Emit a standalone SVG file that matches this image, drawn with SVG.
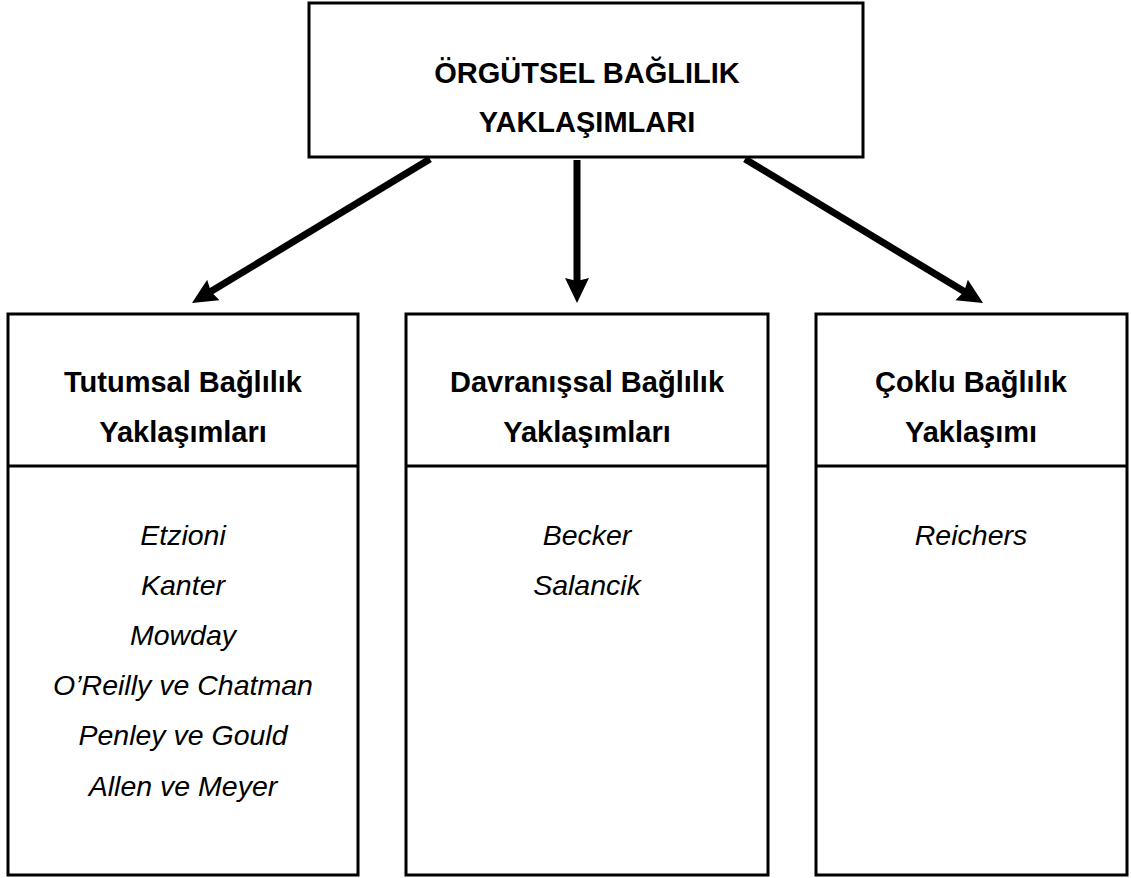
<svg xmlns="http://www.w3.org/2000/svg" width="1131" height="878" viewBox="0 0 1131 878">
<style>
.box{fill:#fff;stroke:#000;stroke-width:3}
.div{stroke:#000;stroke-width:3}
.hd{font-family:"Liberation Sans",Arial,sans-serif;font-weight:bold;font-size:29px;text-anchor:middle;fill:#000}
.it{font-family:"Liberation Sans",Arial,sans-serif;font-style:italic;font-size:28.5px;text-anchor:middle;fill:#000}
.ar{stroke:#000;stroke-width:7;fill:none;marker-end:url(#ah)}
</style>
<defs>
<marker id="ah" markerUnits="userSpaceOnUse" markerWidth="30" markerHeight="30" viewBox="0 0 30 30" refX="5" refY="12" orient="auto">
<path d="M0,0 L25,12 L0,24 L3,12 Z" fill="#000"/>
</marker>
</defs>
<rect width="1131" height="878" fill="#fff"/>
<g id="top">
<rect class="box" x="309" y="3" width="554" height="154"/>
<text class="hd" x="587" y="83">ÖRGÜTSEL BAĞLILIK</text>
<text class="hd" x="587" y="132">YAKLAŞIMLARI</text>
</g>
<g id="connectors">
<line class="ar" x1="430" y1="159" x2="209.1" y2="292.6"/>
<line class="ar" x1="577" y1="160" x2="577" y2="283"/>
<line class="ar" x1="745" y1="159" x2="965.9" y2="292.6"/>
</g>
<g id="tutumsal">
<rect class="box" x="8" y="314" width="350" height="561"/>
<line class="div" x1="8" y1="466" x2="358" y2="466"/>
<text class="hd" x="183" y="392">Tutumsal Bağlılık</text>
<text class="hd" x="183" y="442">Yaklaşımları</text>
<text class="it" x="183" y="545">Etzioni</text>
<text class="it" x="183" y="595">Kanter</text>
<text class="it" x="183" y="645">Mowday</text>
<text class="it" x="183" y="695">O’Reilly ve Chatman</text>
<text class="it" x="183" y="745">Penley ve Gould</text>
<text class="it" x="183" y="796">Allen ve Meyer</text>
</g>
<g id="davranissal">
<rect class="box" x="406" y="314" width="362" height="561"/>
<line class="div" x1="406" y1="466" x2="768" y2="466"/>
<text class="hd" x="587" y="392">Davranışsal Bağlılık</text>
<text class="hd" x="587" y="442">Yaklaşımları</text>
<text class="it" x="587" y="545">Becker</text>
<text class="it" x="587" y="595">Salancik</text>
</g>
<g id="coklu">
<rect class="box" x="816" y="314" width="311" height="561"/>
<line class="div" x1="816" y1="466" x2="1127" y2="466"/>
<text class="hd" x="971" y="392">Çoklu Bağlılık</text>
<text class="hd" x="971" y="442">Yaklaşımı</text>
<text class="it" x="971" y="545">Reichers</text>
</g>
</svg>
